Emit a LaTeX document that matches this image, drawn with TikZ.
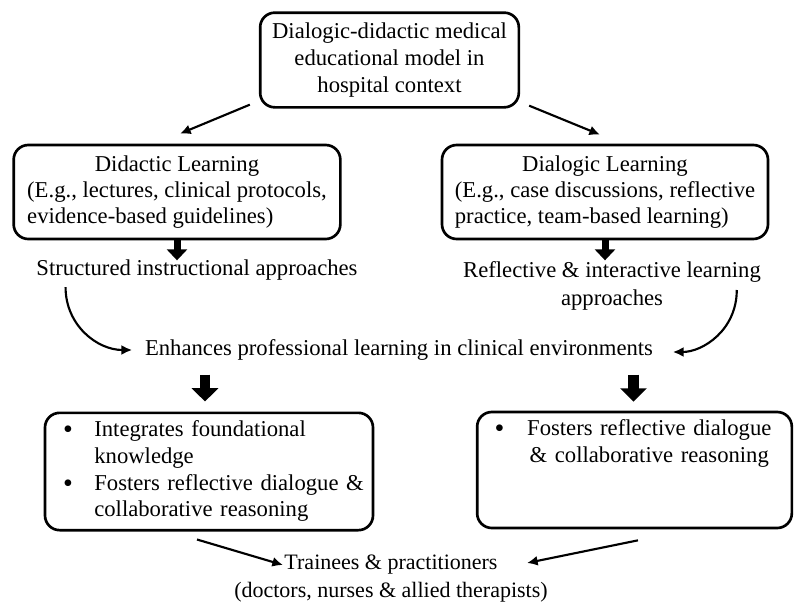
\documentclass[tikz,border=0pt]{standalone}
\usepackage{fontspec}
\setmainfont{Liberation Serif}
\usetikzlibrary{arrows.meta,positioning,calc}

\newcommand{\bigdot}{\raisebox{-1.5pt}{\fontsize{21pt}{20pt}\selectfont\textbullet}}

\tikzset{
  box/.style={draw, line width=2pt, rounded corners=11pt, inner sep=0pt},
  arr/.style={line width=1.6pt, -{Latex[length=8pt,width=7.5pt]}},
  fatarr/.style={line width=5.25pt, -{Triangle[length=8.25pt,width=15pt]}},
  fatbig/.style={line width=8pt, -{Triangle[length=10pt,width=19.5pt]}},
  txt/.style={inner sep=2pt}
}

\begin{document}
\begin{tikzpicture}[x=0.75pt,y=-0.75pt,font=\fontsize{17pt}{18.75pt}\selectfont]
\useasboundingbox (0,0) rectangle (794,603);

\node[box, minimum width=194pt, minimum height=71pt, align=center,
  font=\fontsize{17pt}{20pt}\selectfont] (model) at (389.5,60)
{Dialogic-didactic medical\\educational model in\\hospital context};

\node[box, minimum width=245pt, minimum height=70.5pt,
  font=\fontsize{17pt}{19.5pt}\selectfont] (didactic) at (177,192)
{\begin{tabular}{@{}l@{}}\multicolumn{1}{@{}c@{}}{Didactic Learning}\\
(E.g., lectures, clinical protocols,\\ evidence-based guidelines)\end{tabular}};
\node[box, minimum width=244.5pt, minimum height=70.5pt,
  font=\fontsize{17pt}{19.5pt}\selectfont] (dialogic) at (605,192)
{\begin{tabular}{@{}l@{}}\multicolumn{1}{@{}c@{}}{Dialogic Learning}\\
(E.g., case discussions, reflective\\ practice, team-based learning)\end{tabular}};

\node[txt] (structured) at (197,270) {Structured instructional approaches};
\node[txt, align=center, font=\fontsize{17pt}{21pt}\selectfont] (reflective) at (612,286)
{Reflective \& interactive learning\\approaches};
\node[txt] (enhances) at (399,350) {Enhances professional learning in clinical environments};

\node[box, minimum height=88pt, text width=222pt, inner xsep=12pt,
  font=\fontsize{17pt}{20pt}\selectfont] (leftbox) at (209,471.5)
{\begin{tabular}{@{\hspace{1.5pt}}p{23.5pt}@{}l@{}}
\bigdot & Integrates foundational\\
 & knowledge\\
\bigdot & Fosters reflective dialogue \&\\
 & collaborative reasoning
\end{tabular}};
\node[box, minimum height=87pt, text width=212pt, inner xsep=12pt,
  font=\fontsize{17pt}{20pt}\selectfont] (rightbox) at (634.5,470)
{\begin{tabular}{@{\hspace{1pt}}p{24.5pt}@{}c@{}}
\bigdot & Fosters reflective dialogue\\
 & \& collaborative reasoning\\
 & \\
 &
\end{tabular}};

\node[txt, align=center, font=\fontsize{16.5pt}{21pt}\selectfont] (trainees) at (391,578.5)
{Trainees \& practitioners\\(doctors, nurses \& allied therapists)};

% thin arrows
\draw[arr] ($(model.south west)+(-9,-4)$) -- ($(didactic.north)+(3,-10)$);
\draw[arr] ($(model.south east)+(9,-3)$) -- ($(dialogic.north)+(-5,-9)$);
\draw[arr] ($(structured.south west)+(32,4)$) .. controls +(0,38) and +(-35,0) .. ($(enhances.west)+(-10,0)$);
\draw[arr] ($(reflective.east)+(-27,4)$) .. controls +(0,40) and +(30,0) .. ($(enhances.east)+(17,2)$);
\draw[arr] ($(leftbox.south)+(-12,8)$) -- ($(trainees.center)+(-108,-13.5)$);
\draw[arr] ($(rightbox.south)+(3.5,11)$) -- ($(trainees.center)+(136,-15.5)$);

% block arrows
\draw[fatarr] (didactic.south) -- ($(didactic.south)+(0,20)$);
\draw[fatarr] (dialogic.south) -- ($(dialogic.south)+(0,20)$);
\draw[fatbig] ($(leftbox.north)+(-4,-37)$) -- ($(leftbox.north)+(-4,-10)$);
\draw[fatbig] ($(rightbox.north)+(-1,-36)$) -- ($(rightbox.north)+(-1,-9)$);
\end{tikzpicture}
\end{document}
